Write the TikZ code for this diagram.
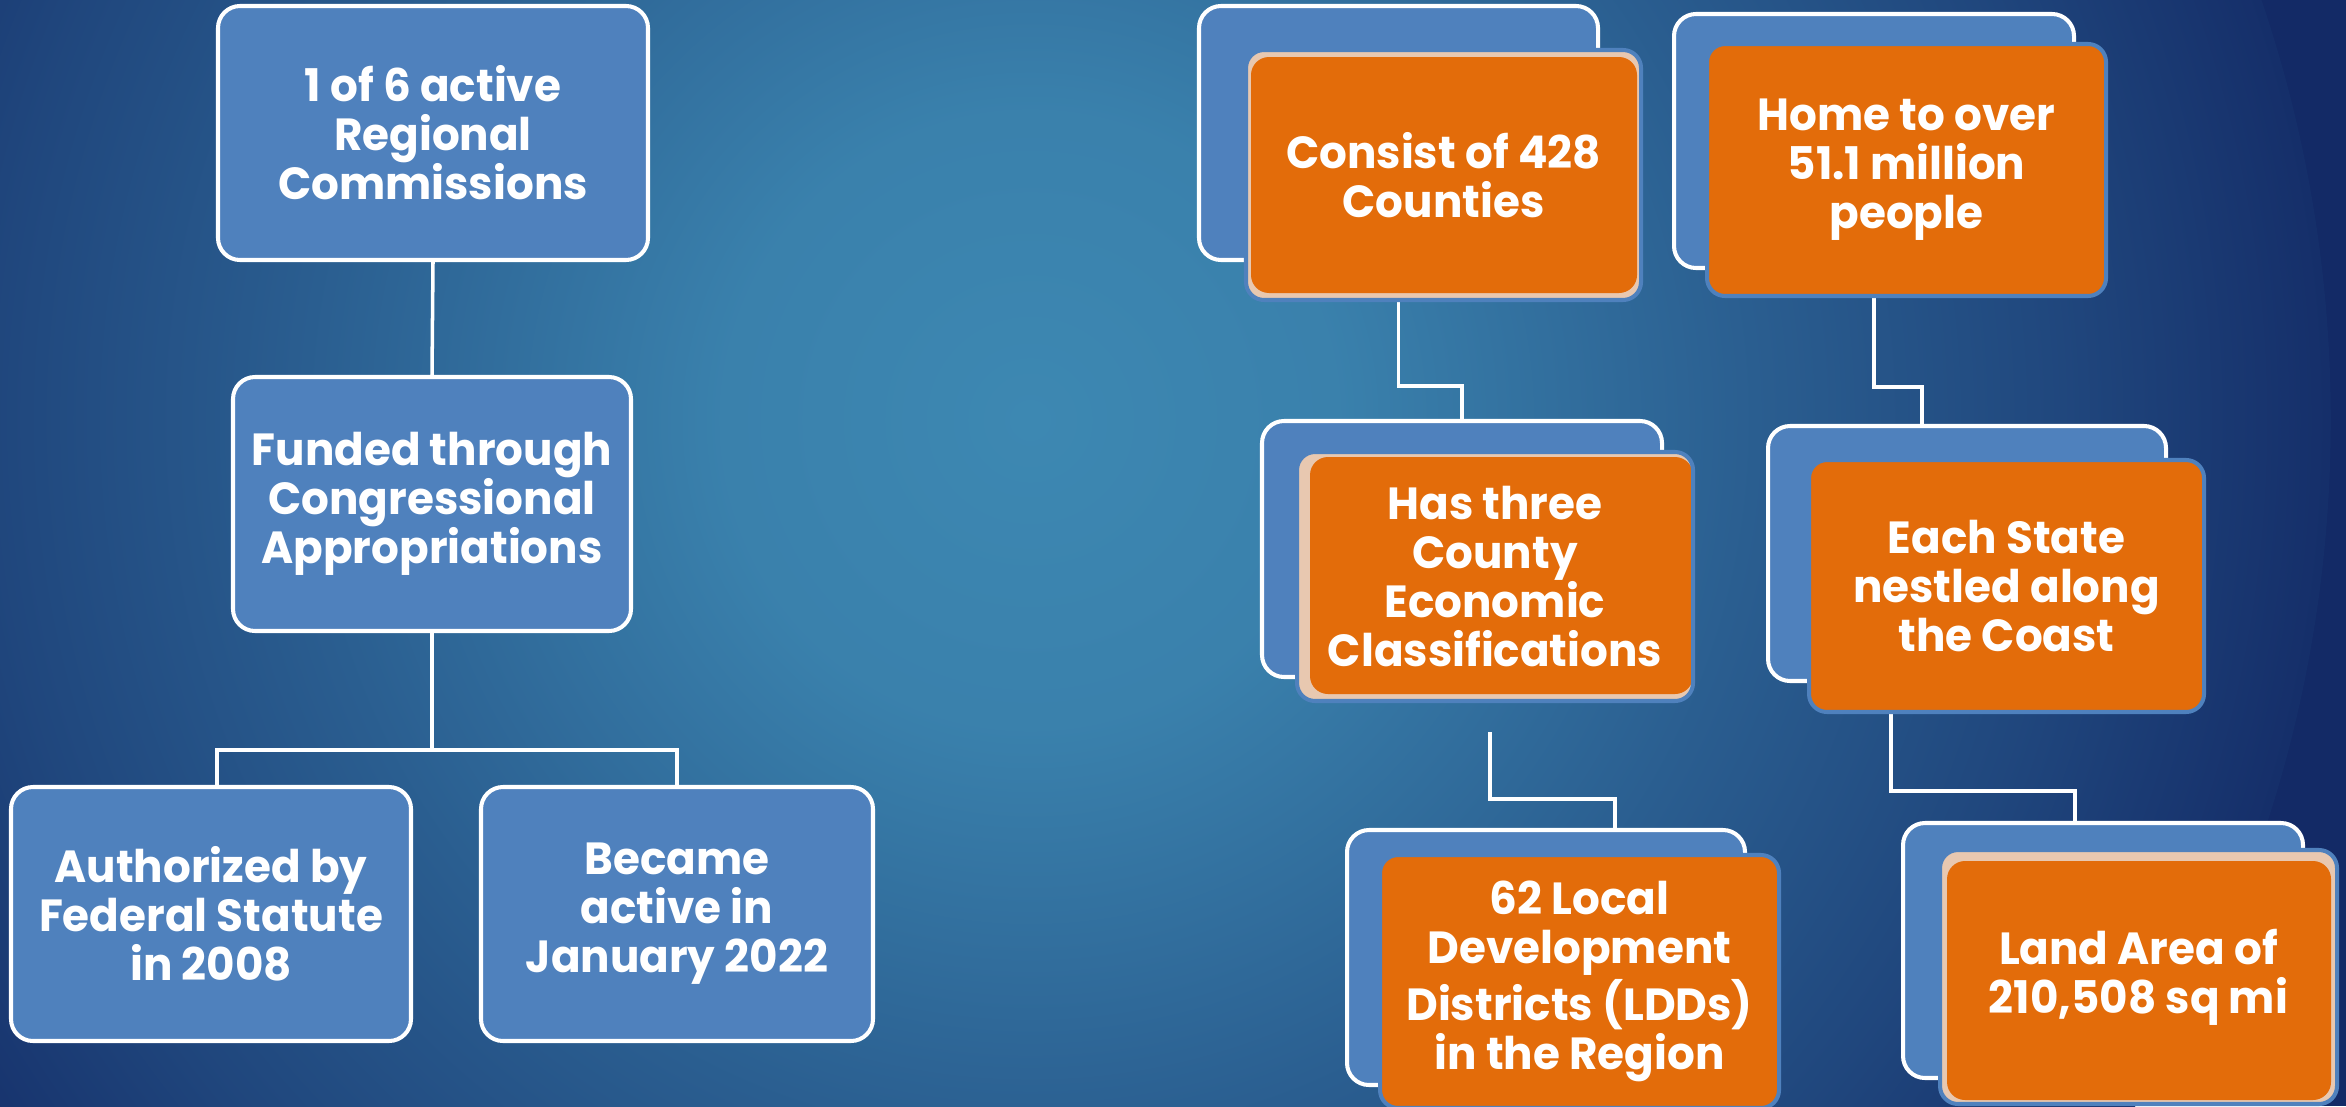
\documentclass[tikz,border=0pt]{standalone}
\usepackage{fontspec}
\setmainfont{Poppins}[FakeStretch=0.97]
\usetikzlibrary{calc}
\definecolor{bgc}{HTML}{3D88B2}
\definecolor{bgd}{HTML}{132A66}
\definecolor{boxblue}{HTML}{4F81BD}
\definecolor{boxorange}{HTML}{E36C0A}
\definecolor{peach}{HTML}{E8C8B0}
\definecolor{edgeblue}{HTML}{4F81BD}
\pgfdeclareradialshading{bgshade}{\pgfpoint{0bp}{0bp}}{%
  color(0bp)=(bgc);
  color(6bp)=(bgc!92!bgd);
  color(14bp)=(bgc!55!bgd);
  color(20bp)=(bgc!30!bgd);
  color(26bp)=(bgd);
  color(50bp)=(bgd)}
\pgfdeclarelayer{bgfill}
\pgfdeclarelayer{lines}
\pgfsetlayers{bgfill,lines,main}
\begin{document}
\begin{tikzpicture}[x=0.01cm,y=-0.01cm,
  txt/.style={font=\bfseries\fontsize{12.8}{13.9}\selectfont, text=white, align=center},
  back/.style={draw=white, line width=1.15pt, fill=boxblue, rounded corners=0.22cm, inner sep=0pt},
  plain/.style={back, txt},
  front/.style={draw=edgeblue, line width=1.15pt, fill=boxorange, rounded corners=0.18cm, inner sep=0pt, txt},
  link/.style={draw=white, line width=1pt},
  sz/.style 2 args={minimum width=#1*0.01cm, minimum height=#2*0.01cm},
  inset/.style n args={4}{fill=peach, path picture={\fill[boxorange] ($(path picture bounding box.north west)+(#1,#2)$) rectangle ($(path picture bounding box.south east)+(-#3,-#4)$);}}
]
\useasboundingbox (0,0) rectangle (2346,1106);
\begin{pgfonlayer}{bgfill}
  \fill[bgd] (0,0) rectangle (2346,1106);
  \begin{scope}
    \clip (0,0) rectangle (2346,1106);
    \shade[shading=bgshade] (1030,420) circle [radius=13cm];
  \end{scope}
\end{pgfonlayer}

% left tree
\node[plain, sz={430}{254}] (A) at (433,133) {1 of 6 active\\Regional\\Commissions};
\node[plain, sz={398}{254}] (B) at (432,504) {Funded through\\Congressional\\Appropriations};
\node[plain, sz={400}{254}] (C) at (211,914) {Authorized by\\Federal Statute\\in 2008};
\node[plain, sz={392}{254}] (D) at (677,914) {Became\\active in\\January 2022};

\coordinate (br) at (432,750);
\draw[link] (A.south) -- (B.north);
\draw[link] (B.south) -- (br);
\draw[link] (br) -| ([xshift=0.06cm]C.north);
\draw[link] (br) -| (D.north);

% right side: back and front boxes
\node[back, sz={399}{254}] (Eb) at (1398.5,133) {};
\node[front, inset={5}{7}{4}{7}, sz={395}{250}] (Ef) at (1443.5,175) {Consist of 428\\Counties};
\node[back, sz={400}{254}] (Fb) at (1874,141) {};
\node[front, sz={399}{252}] (Ff) at (1906.5,170) {Home to over\\51.1 million\\people};
\node[back, sz={400}{256}] (Gb) at (1462,549) {};
\node[front, inset={13}{5}{0}{7}, sz={396}{249}] (Gf) at (1495,576.5) {Has three\\County\\Economic\\Classifications};
\node[back, sz={398}{255}] (Hb) at (1967,553.5) {};
\node[front, sz={395}{252}] (Hf) at (2006.5,586) {Each State\\nestled along\\the Coast};
\node[back, sz={398}{255}] (Ib) at (1546,957.5) {};
\node[front, sz={399}{253}] (If) at (1579.5,981.5) {62 Local\\Development\\Districts (LDDs)\\in the Region};
\node[back, sz={400}{255}] (Jb) at (2103,950.5) {};
\node[front, inset={7}{11}{6}{4}, sz={397}{254}] (Jf) at (2138.5,977) {Land Area of\\210,508 sq mi};

\coordinate (gi) at (1490,732);
\begin{pgfonlayer}{lines}
  \draw[link] (Eb.south) -- ++(0,124) -| (Gb.north);
  \draw[link] (Fb.south) -- ++(0,117) -| ([xshift=-0.45cm]Hb.north);
  \draw[link] (gi) -- ++(0,67) -| ([xshift=0.69cm]Ib.north);
  \draw[link] ([xshift=-1.155cm]Hf.south) -- ++(0,77) -| ([xshift=-0.28cm]Jb.north);
\end{pgfonlayer}
\end{tikzpicture}
\end{document}
